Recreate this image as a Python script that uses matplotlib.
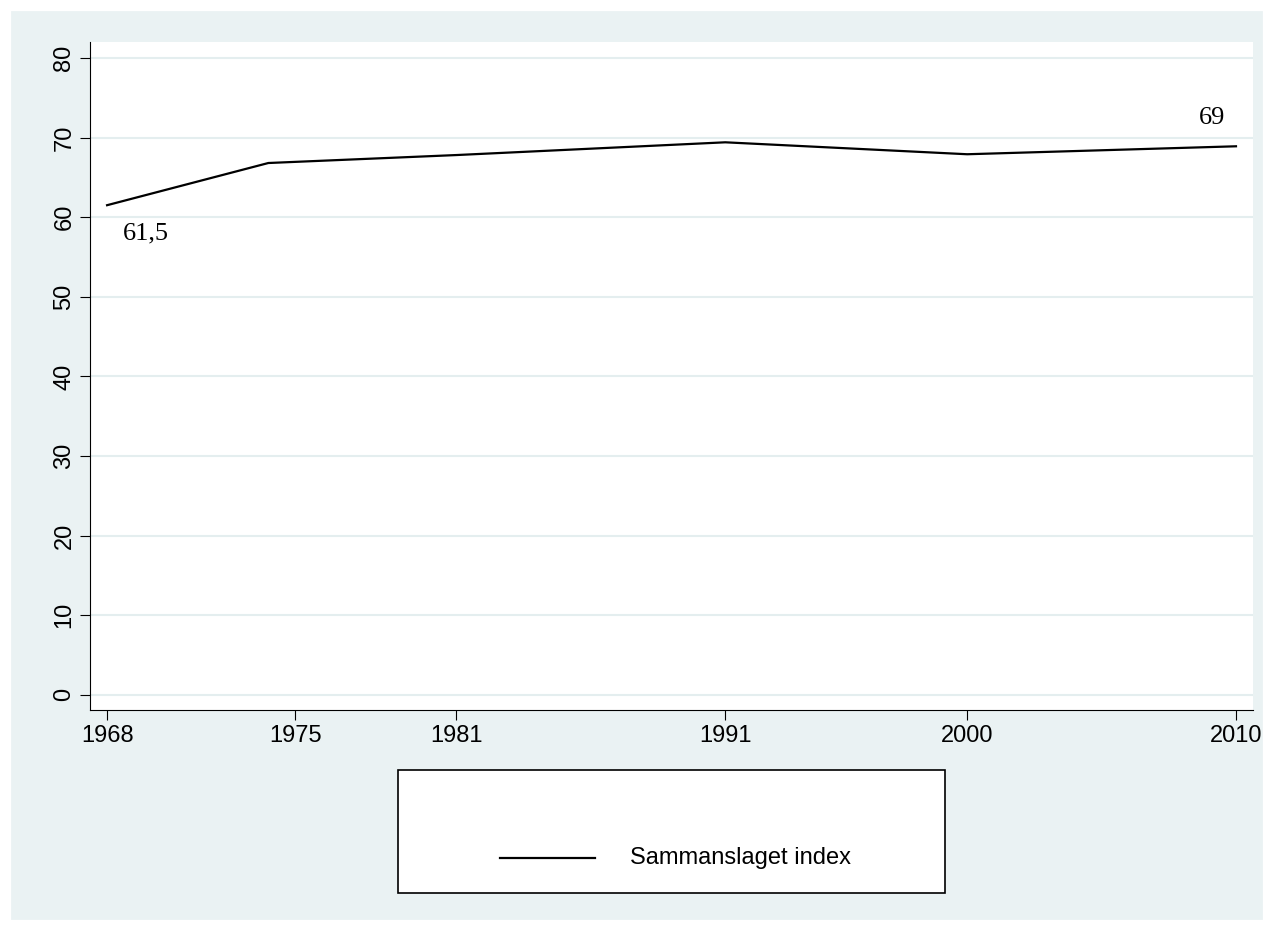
import matplotlib.pyplot as plt
from matplotlib.lines import Line2D

years = [1968, 1974, 1981, 1991, 2000, 2010]
index_values = [61.5, 66.8, 67.8, 69.4, 67.9, 68.9]
tick_years = [1968, 1975, 1981, 1991, 2000, 2010]
y_ticks = [0, 10, 20, 30, 40, 50, 60, 70, 80]

plt.rcParams["font.family"] = ["Liberation Sans", "DejaVu Sans"]

bg = "#eaf2f3"
fig = plt.figure(figsize=(12.74, 9.31), dpi=100, facecolor=bg)
fig.patches.append(plt.Rectangle((0, 0), 1, 1, transform=fig.transFigure,
                                 facecolor="none", edgecolor="white", linewidth=16))
ax = fig.add_axes([0.0707, 0.2374, 0.9128, 0.7175], facecolor="white")
ax.plot(years, index_values, color="black", linewidth=1.6)
ax.set_xlim(1968 - 42 * 17 / 1129, 2010 + 42 * 17 / 1129)
ax.set_ylim(-1.9, 82)
ax.set_xticks(tick_years)
ax.set_yticks(y_ticks)
ax.tick_params(axis="y", labelrotation=90, labelsize=17, length=7)
ax.tick_params(axis="x", labelsize=17, length=7)
for lab in ax.get_yticklabels():
    lab.set_va("center")
ax.grid(axis="y", color="#e4eeef", linewidth=1.5)
ax.set_axisbelow(True)
for s in ["top", "right"]:
    ax.spines[s].set_visible(False)

ax.text(1968.6, 58.0, "61,5", fontsize=19, family="Liberation Serif", ha="left", va="center")
ax.text(2009.1, 72.4, "69", fontsize=19, family="Liberation Serif", ha="center", va="center")

fig.patches.append(plt.Rectangle((398 / 1274, 1 - 893 / 931), 547 / 1274, 123 / 931,
                                 transform=fig.transFigure, facecolor="white",
                                 edgecolor="black", linewidth=1.2))
fig.lines.append(Line2D([500 / 1274, 595 / 1274], [1 - 858 / 931] * 2,
                        transform=fig.transFigure, color="black", linewidth=1.6))
fig.text(630 / 1274, 1 - 858 / 931, "Sammanslaget index", fontsize=17, va="center")

fig.savefig("out.png", facecolor=bg)
